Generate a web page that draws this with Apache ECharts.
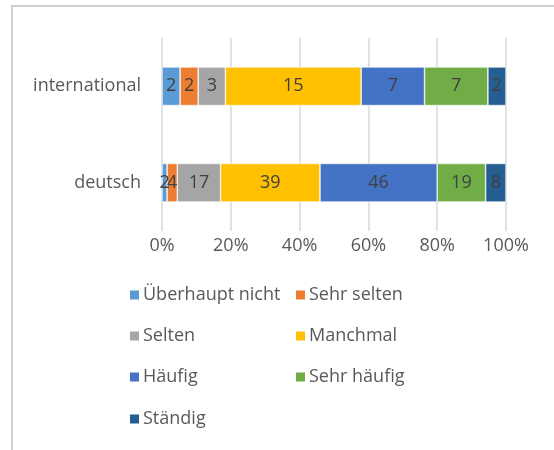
<!DOCTYPE html>
<html>
<head>
<meta charset="utf-8">
<script src="https://cdn.jsdelivr.net/npm/echarts@6/dist/echarts.min.js"></script>
<style>
  html, body { margin: 0; padding: 0; background: #fff; }
  #chart { width: 554px; height: 450px; }
</style>
</head>
<body>
<div id="chart"></div>
<script>
// Response counts per group (bottom to top on the category axis)
const categories = ['deutsch', 'international'];
const seriesNames = ['Überhaupt nicht', 'Sehr selten', 'Selten', 'Manchmal', 'Häufig', 'Sehr häufig', 'Ständig'];
const ueberhauptNicht = [2, 2];
const sehrSelten = [4, 2];
const selten = [17, 3];
const manchmal = [39, 15];
const haeufig = [46, 7];
const sehrHaeufig = [19, 7];
const staendig = [8, 2];
const tickLabels = ['0%', '20%', '40%', '60%', '80%', '100%'];

const colors = ['#5B9BD5', '#ED7D31', '#A5A5A5', '#FFC000', '#4472C4', '#70AD47', '#255E91'];
const counts = [ueberhauptNicht, sehrSelten, selten, manchmal, haeufig, sehrHaeufig, staendig];

// Totals per category for the 100% stacking
const totals = categories.map((_, i) => counts.reduce((s, arr) => s + arr[i], 0));

const font = '"Open Sans", "Liberation Sans", sans-serif';
const fs = 18;

const series = seriesNames.map((name, k) => ({
  name: name,
  type: 'bar',
  stack: 'all',
  barCategoryGap: '60%',
  itemStyle: { color: colors[k], borderColor: '#ffffff', borderWidth: 0.6 },
  label: {
    show: true,
    position: 'inside',
    color: '#404040',
    fontFamily: font,
    fontSize: fs,
    formatter: p => String(counts[k][p.dataIndex])
  },
  data: counts[k].map((v, i) => v / totals[i] * 100)
}));

// Legend: two columns, one component per entry
const legendPos = [
  [128, 286], [294, 286],
  [128, 327], [294, 327],
  [128, 368], [294, 368],
  [128, 410]
];
const legends = seriesNames.map((name, k) => ({
  data: [name],
  left: legendPos[k][0],
  top: legendPos[k][1],
  itemWidth: 11,
  itemHeight: 11,
  itemGap: 0,
  icon: 'rect',
  selectedMode: false,
  textStyle: { color: '#595959', fontFamily: font, fontSize: fs, padding: [0, 0, 0, -2] },
  padding: 0
}));

const chart = echarts.init(document.getElementById('chart'), null, { renderer: 'canvas' });
chart.setOption({
  animation: false,
  color: colors,
  graphic: [{
    type: 'rect',
    shape: { x: 12, y: 6, width: 560, height: 460 },
    style: { fill: 'none', stroke: '#d0d0d0', lineWidth: 2 },
    silent: true
  }],
  grid: { left: 162, right: 48, top: 38, bottom: 219, containLabel: false },
  xAxis: {
    type: 'value',
    min: 0,
    max: 100,
    interval: 20,
    axisLine: { show: false },
    axisTick: { show: false },
    splitLine: { show: true, lineStyle: { color: '#d9d9d9', width: 1.5 } },
    axisLabel: {
      color: '#595959',
      fontFamily: font,
      fontSize: fs,
      margin: 6,
      formatter: v => tickLabels[Math.round(v / 20)]
    }
  },
  yAxis: {
    type: 'category',
    data: categories,
    axisLine: { show: false },
    axisTick: { show: false },
    axisLabel: { color: '#595959', fontFamily: font, fontSize: fs, margin: 21 }
  },
  legend: legends,
  series: series
});
</script>
</body>
</html>
